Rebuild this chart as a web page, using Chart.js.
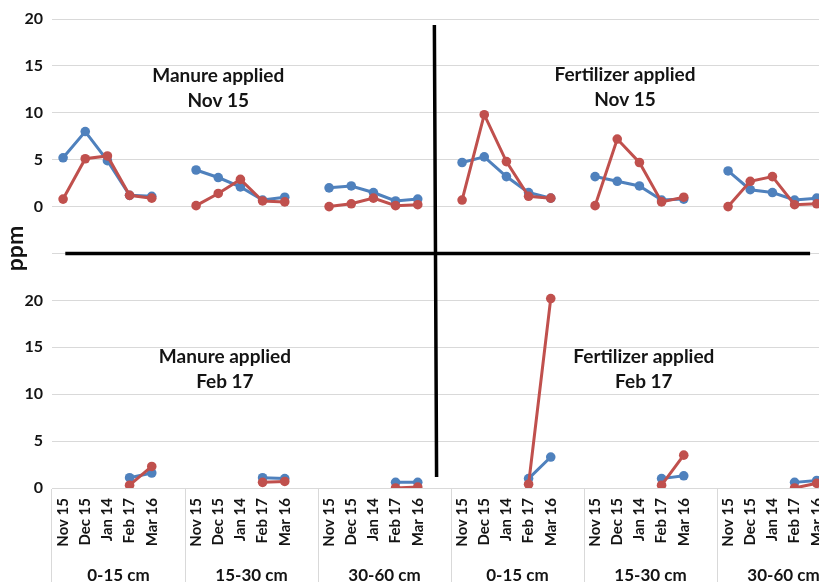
<!DOCTYPE html>
<html>
<head>
<meta charset="utf-8">
<script src="https://cdn.jsdelivr.net/npm/chart.js@4/dist/chart.umd.min.js"></script>
<style>
  html, body { margin: 0; padding: 0; background: #ffffff; overflow: hidden; }
  #wrap { width: 819px; height: 582px; overflow: hidden; position: relative; }
  canvas { display: block; }
</style>
</head>
<body>
<div id="wrap"><canvas id="chart" width="860" height="582"></canvas></div>
<script>
// Sampling months and depth groups along the x axis
const MONTHS = ['Nov 15', 'Dec 15', 'Jan 14', 'Feb 17', 'Mar 16'];
const DEPTHS = ['0-15 cm', '15-30 cm', '30-60 cm', '0-15 cm', '15-30 cm', '30-60 cm'];
const Y_TICKS = [0, 5, 10, 15, 20];

// Applied Nov 15 (upper half): manure 0-15 / 15-30 / 30-60, then fertilizer 0-15 / 15-30 / 30-60
const novBlue = [5.2, 8.0, 4.9, 1.2, 1.1,   3.9, 3.1, 2.1, 0.7, 1.0,   2.0, 2.2, 1.5, 0.6, 0.8,
                 4.7, 5.3, 3.2, 1.5, 0.9,   3.2, 2.7, 2.2, 0.7, 0.8,   3.8, 1.8, 1.5, 0.7, 0.9];
const novRed  = [0.8, 5.1, 5.4, 1.2, 0.9,   0.1, 1.4, 2.9, 0.6, 0.5,   0.0, 0.3, 0.9, 0.1, 0.2,
                 0.7, 9.8, 4.8, 1.1, 0.9,   0.1, 7.2, 4.7, 0.5, 1.0,   0.0, 2.7, 3.2, 0.2, 0.3];

// Applied Feb 17 (lower half): only Feb 17 and Mar 16 were sampled
const febBlue = [null, null, null, 1.1, 1.6,   null, null, null, 1.1, 1.0,   null, null, null, 0.6, 0.6,
                 null, null, null, 1.0, 3.3,   null, null, null, 1.0, 1.3,   null, null, null, 0.6, 0.8];
const febRed  = [null, null, null, 0.3, 2.3,   null, null, null, 0.6, 0.7,   null, null, null, 0.0, 0.1,
                 null, null, null, 0.4, 20.2,  null, null, null, 0.3, 3.5,   null, null, null, 0.0, 0.5];

// Panel captions
const CAPTIONS = [
  { lines: ['Manure applied', 'Nov 15'],     x: 7.0,  y: 12.6, axis: 'yTop' },
  { lines: ['Fertilizer applied', 'Nov 15'], x: 25.35, y: 12.75, axis: 'yTop' },
  { lines: ['Manure applied', 'Feb 17'],     x: 7.3,  y: 12.6, axis: 'yBot' },
  { lines: ['Fertilizer applied', 'Feb 17'], x: 26.2, y: 12.6, axis: 'yBot' }
];

const BLUE = '#4f81bd';
const RED = '#c0504d';
const GRID = '#d9d9d9';
const INK = '#141414';
const FONT = 'Lato, "Open Sans", "Liberation Sans", sans-serif';

// Each depth group gets five month slots plus one empty slot
const SLOTS = MONTHS.length + 1;
const labels = [];
DEPTHS.forEach(() => { labels.push(...MONTHS, ''); });

function toSlots(vals) {
  const out = [];
  DEPTHS.forEach((d, g) => {
    out.push(...vals.slice(g * MONTHS.length, (g + 1) * MONTHS.length), null);
  });
  return out;
}

function series(label, vals, color, axis, order) {
  return {
    label, data: toSlots(vals), yAxisID: axis, order,
    borderColor: color, backgroundColor: color,
    borderWidth: 3, pointRadius: 4.8, pointHoverRadius: 4.8,
    pointBorderWidth: 0, tension: 0, spanGaps: false
  };
}

const overlay = {
  id: 'overlay',
  afterDraw(chart) {
    const { ctx, scales } = chart;
    const x = scales.x, yTop = scales.yTop, yBot = scales.yBot;
    ctx.save();

    // Quadrant dividers
    ctx.strokeStyle = '#000000';
    ctx.lineWidth = 3.5;
    ctx.beginPath();
    ctx.moveTo(x.getPixelForValue(16.75), yTop.getPixelForValue(19.35));
    ctx.lineTo(x.getPixelForValue(16.85), yBot.getPixelForValue(1.17));
    const yMid = yTop.getPixelForValue(-5);
    ctx.moveTo(x.getPixelForValue(0.1), yMid);
    ctx.lineTo(x.getPixelForValue(33.7), yMid);
    ctx.stroke();

    // Captions
    ctx.fillStyle = INK;
    ctx.font = 'bold 19px ' + FONT;
    ctx.textAlign = 'center';
    ctx.textBaseline = 'middle';
    CAPTIONS.forEach(c => {
      const cx = x.getPixelForValue(c.x);
      const cy = scales[c.axis].getPixelForValue(c.y);
      const step = 25;
      c.lines.forEach((t, i) => {
        ctx.fillText(t, cx, cy + (i - (c.lines.length - 1) / 2) * step);
      });
    });

    // Shared y axis title
    ctx.font = 'bold 23px ' + FONT;
    ctx.translate(16, yMid - 5);
    ctx.rotate(-Math.PI / 2);
    ctx.fillText('ppm', 0, 0);
    ctx.restore();
  }
};

const yCommon = {
  type: 'linear',
  position: 'left',
  stack: 'panels',
  stackWeight: 1,
  grid: { color: GRID, lineWidth: 1, drawTicks: false },
  border: { display: false },
  afterFit: s => { s.width = 52; }
};

const yTicks = {
  stepSize: 5, padding: 9, color: INK,
  font: { family: FONT, size: 16, weight: 'bold' },
  callback: v => Y_TICKS.includes(v) ? String(v) : ''
};

new Chart(document.getElementById('chart'), {
  type: 'line',
  data: {
    labels,
    datasets: [
      series('Series 1 (Nov 15)', novBlue, BLUE, 'yTop', 2),
      series('Series 2 (Nov 15)', novRed, RED, 'yTop', 1),
      series('Series 1 (Feb 17)', febBlue, BLUE, 'yBot', 2),
      series('Series 2 (Feb 17)', febRed, RED, 'yBot', 1)
    ]
  },
  options: {
    responsive: false,
    animation: false,
    devicePixelRatio: 1,
    layout: { padding: { left: 0, top: 19, right: 10, bottom: 0 } },
    plugins: { legend: { display: false }, tooltip: { enabled: false } },
    scales: {
      yBot: Object.assign({}, yCommon, { min: 0, max: 25, ticks: yTicks }),
      yTop: Object.assign({}, yCommon, { min: -5, max: 20, ticks: yTicks }),
      x: {
        type: 'category',
        position: 'bottom',
        offset: true,
        grid: {
          offset: true,
          drawOnChartArea: false,
          drawTicks: true,
          tickLength: 94,
          lineWidth: 1,
          color: c => (c.index % SLOTS === 0) ? GRID : 'rgba(0,0,0,0)'
        },
        border: { display: true, color: GRID, width: 1 },
        ticks: {
          autoSkip: false, minRotation: 90, maxRotation: 90,
          padding: -84, color: INK,
          font: { family: FONT, size: 15, weight: 'bold' }
        },
        afterFit: s => { s.height = 60; }
      },
      xGroup: {
        type: 'category',
        position: 'bottom',
        labels: DEPTHS,
        offset: true,
        grid: { display: false },
        border: { display: false },
        ticks: {
          autoSkip: false, maxRotation: 0, padding: 9, color: INK,
          font: { family: FONT, size: 17, weight: 'bold' }
        },
        afterFit: s => { s.height = 34; }
      }
    }
  },
  plugins: [overlay]
});
</script>
</body>
</html>
